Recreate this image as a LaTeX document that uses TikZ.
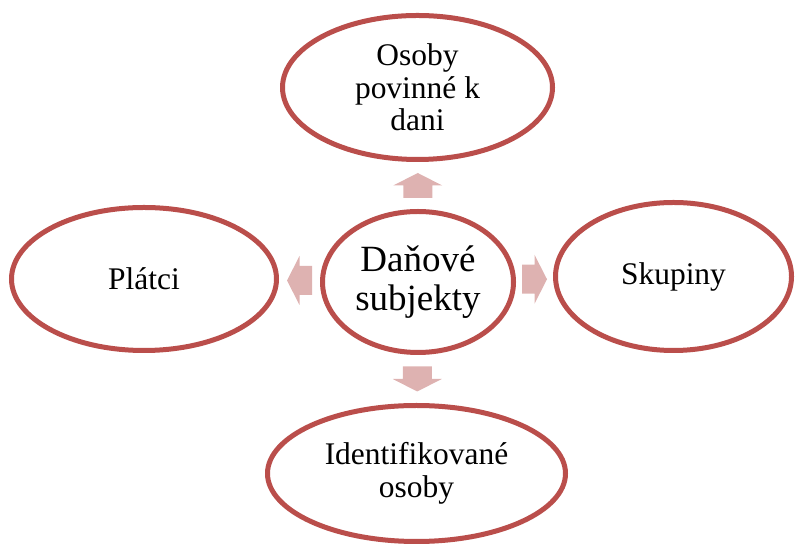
\documentclass[tikz,border=0pt]{standalone}
\usepackage{fontspec}
\setmainfont{Liberation Serif}
\usetikzlibrary{shapes.geometric,calc}
\definecolor{ringred}{HTML}{BA4E4B}
\definecolor{arrowpink}{HTML}{DEB2B1}
\tikzset{
  x=0.75pt, y=0.75pt,
  ring/.style={ellipse, draw=ringred, line width=3.75pt, fill=white,
    inner sep=0pt, align=center,
    font=\fontsize{23.6}{24.4}\selectfont},
  hubring/.style={ring, font=\fontsize{27.75}{29.25}\selectfont},
  blockarrow/.pic={
    \fill[arrowpink] (-12.5,-14.5) -- (0,-14.5) -- (0,-24.5) -- (12.5,0)
      -- (0,24.5) -- (0,14.5) -- (-12.5,14.5) -- cycle;
  }
}
\begin{document}
\begin{tikzpicture}
\useasboundingbox (0,0) rectangle (795,545);

% hub and the four satellite ellipses
\node[hubring, minimum width=143.25pt, minimum height=105.75pt] (hub) at (418,263) {Daňové\\subjekty};
\node[ring, minimum width=202.5pt, minimum height=108pt] (top) at (417.5,457.5) {Osoby\\povinné k\\dani};
\node[ring, minimum width=198.75pt, minimum height=107.25pt] (left) at (144,266) {Plátci};
\node[ring, minimum width=177pt, minimum height=111pt] (right) at (673.5,268.5) {Skupiny};
\node[ring, minimum width=223.5pt, minimum height=102pt] (bottom) at (416.5,71.5) {Identifikované\\osoby};

% block arrows halfway between the hub and each satellite
\coordinate (aup) at ($(hub.north)!0.5!(top.south)$);
\coordinate (adown) at ($(hub.south)!0.5!(bottom.north)$);
\coordinate (aleft) at ($(hub.west)!0.5!(left.east)$);
\coordinate (aright) at ($(hub.east)!0.5!(right.west)$);
\pic[rotate=90] at (aup) {blockarrow};
\pic[rotate=-90] at (adown) {blockarrow};
\pic[rotate=180] at (aleft) {blockarrow};
\pic at (aright) {blockarrow};
\end{tikzpicture}
\end{document}
